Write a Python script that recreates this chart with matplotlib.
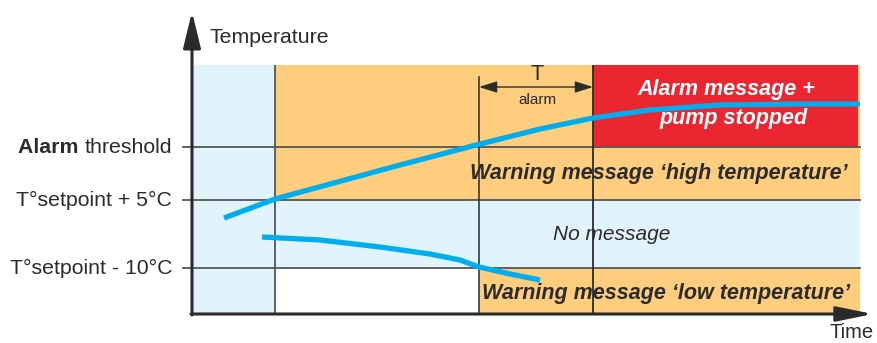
import matplotlib
matplotlib.use('Agg')
import matplotlib.pyplot as plt

plt.rcParams['font.family'] = ['Liberation Sans', 'DejaVu Sans']

# time boundaries (arbitrary time units) and temperature levels (arbitrary units)
t_start, t_warn, t_delay, t_alarm, t_end = 0, 83, 287, 401, 668
lvl_low, lvl_high, lvl_alarm, lvl_top = 46, 114, 167, 249

# rising temperature curve
up_t = [32, 83, 138, 208, 288, 348, 401, 458, 528, 608, 668]
up_y = [96, 115, 130, 149, 170, 185, 196, 204, 209, 210, 210]

# falling temperature curve
down_t = [70, 128, 188, 238, 268, 287, 318, 348]
down_y = [77, 74, 67, 60, 54, 47, 40, 34]

level_labels = ['threshold', 'T°setpoint + 5°C', 'T°setpoint - 10°C']
level_values = [lvl_alarm, lvl_high, lvl_low]

light_blue = '#E1F3FD'
orange = '#FECD7D'
red = '#EC2630'
curve = '#00AEEF'
grid = '#555555'
dark = '#2b2b2b'

fig = plt.figure(figsize=(8.77, 3.43), dpi=100)
ax = fig.add_axes([192/877, 29/343, 668/877, 249/343])
ax.set_xlim(0, 668)
ax.set_ylim(0, 249)
ax.axis('off')

# zones
ax.fill_between([t_start, t_warn], 0, lvl_top, color=light_blue, lw=0)
ax.fill_between([t_warn, t_end], lvl_high, lvl_top, color=orange, lw=0)
ax.fill_between([t_alarm, t_end - 2], lvl_alarm, lvl_top, color=red, lw=0)
ax.fill_between([t_warn, t_end], lvl_low, lvl_high, color=light_blue, lw=0)
ax.fill_between([t_delay, t_end], 0, lvl_low, color=orange, lw=0)

# level lines
for lv in level_values:
    ax.plot([-9, t_end], [lv, lv], color=grid, lw=1.3, clip_on=False)
ax.plot([t_warn, t_warn], [0, lvl_top], color=grid, lw=1.3)
ax.plot([t_delay, t_delay], [0, 237], color=dark, lw=1.1)
ax.plot([t_alarm, t_alarm], [0, lvl_top], color=dark, lw=1.3)

# curves
ax.plot(up_t, up_y, color=curve, lw=3.8, solid_capstyle='butt')
ax.plot(down_t, down_y, color=curve, lw=3.8, solid_capstyle='butt')

# axes arrows
ax.annotate('', xy=(0, 302), xytext=(0, -1), annotation_clip=False,
            arrowprops=dict(arrowstyle='-|>,head_length=22,head_width=5.4',
                            mutation_scale=1, lw=2.2, color=dark,
                            shrinkA=0, shrinkB=0))
ax.annotate('', xy=(681, 0), xytext=(-1, 0), annotation_clip=False,
            arrowprops=dict(arrowstyle='-|>,head_length=22,head_width=4.5',
                            mutation_scale=1, lw=2.2, color=dark,
                            shrinkA=0, shrinkB=0))

# T alarm delay
ax.annotate('', xy=(t_alarm, 227), xytext=(t_delay, 227),
            arrowprops=dict(arrowstyle='<|-|>,head_length=11,head_width=3.5',
                            mutation_scale=1, lw=1.0, color=dark,
                            shrinkA=0, shrinkB=0))
ax.text(345, 240, 'T', fontsize=15.5, ha='center', va='center', color=dark)
ax.text(345, 214, 'alarm', fontsize=11, ha='center', va='center', color=dark)

# axis titles
ax.text(17, 277, 'Temperature', fontsize=15.3, ha='left', va='center',
        color=dark, clip_on=False)
ax.text(638, -18, 'Time', fontsize=14.5, ha='left', va='center',
        color=dark, clip_on=False)

# level labels
txts = []
for lab, lv in zip(level_labels, level_values):
    t = ax.text(-20, lv, lab, fontsize=15.3, ha='right', va='center',
                color=dark, clip_on=False)
    txts.append(t)
ax.annotate('Alarm ', xy=(0, 0.5), xycoords=txts[0], fontsize=15.3,
            fontweight='bold', ha='right', va='center', color=dark)

# zone messages
ax.text(656, 141, 'Warning message ‘high temperature’', fontsize=15.5,
        fontweight='bold', style='italic', ha='right', va='center',
        color=dark, zorder=5)
ax.text(420, 79, 'No message', fontsize=15, style='italic', ha='center',
        va='center', color=dark, zorder=5)
ax.text(658, 21, 'Warning message ‘low temperature’', fontsize=15.5,
        fontweight='bold', style='italic', ha='right', va='center',
        color=dark, zorder=5)
ax.text(534, 225, 'Alarm message +', fontsize=15.5, fontweight='bold',
        style='italic', ha='center', va='center', color='white', zorder=5)
ax.text(542, 196, 'pump stopped', fontsize=15.5, fontweight='bold',
        style='italic', ha='center', va='center', color='white', zorder=5)

fig.savefig('out.png', dpi=100)
